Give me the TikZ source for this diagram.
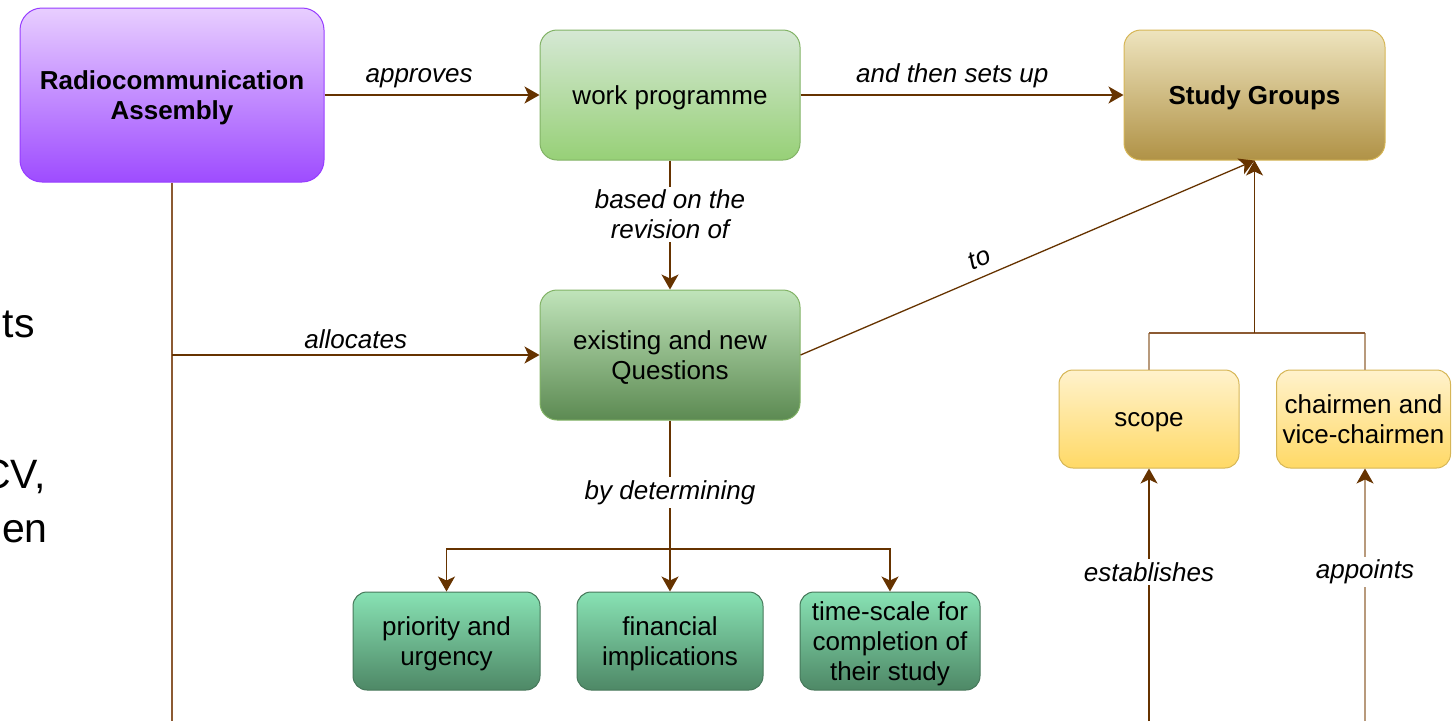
\documentclass[tikz,border=0pt]{standalone}
\usepackage{fontspec}
\setmainfont{Liberation Sans}
\usetikzlibrary{arrows.meta}
\definecolor{arrbrown}{RGB}{102,51,0}
\definecolor{midbrown}{RGB}{140,90,50}
\definecolor{lighttan}{RGB}{184,154,124}
\definecolor{raTop}{RGB}{232,206,255}
\definecolor{raBot}{RGB}{158,76,255}
\definecolor{raLine}{RGB}{150,60,255}
\definecolor{wpTop}{RGB}{213,232,212}
\definecolor{wpBot}{RGB}{151,208,119}
\definecolor{greenLine}{RGB}{130,179,102}
\definecolor{qTop}{RGB}{192,228,186}
\definecolor{qBot}{RGB}{92,138,82}
\definecolor{sgTop}{RGB}{238,228,190}
\definecolor{sgBot}{RGB}{176,146,70}
\definecolor{yLine}{RGB}{214,182,86}
\definecolor{yTop}{RGB}{255,242,204}
\definecolor{yBot}{RGB}{255,217,102}
\definecolor{mTop}{RGB}{136,226,180}
\definecolor{mBot}{RGB}{78,136,102}
\definecolor{mLine}{RGB}{70,120,90}
\begin{document}
\begin{tikzpicture}[x=1pt,y=-1pt,
  txt/.style={font=\fontsize{26}{30}\selectfont},
  itl/.style={font=\fontsize{26}{30}\selectfont\itshape},
  basebox/.style={draw, rounded corners=17pt, line width=1pt, align=center, inner sep=0pt, text depth=0pt, txt},
  rabox/.style={basebox, draw=raLine, top color=raTop, bottom color=raBot, minimum width=304pt, minimum height=174pt, rounded corners=22pt},
  wpbox/.style={basebox, draw=greenLine, top color=wpTop, bottom color=wpBot, minimum width=260pt, minimum height=130pt},
  qbox/.style={basebox, draw=greenLine, top color=qTop, bottom color=qBot, minimum width=260pt, minimum height=130pt},
  sgbox/.style={basebox, draw=yLine, top color=sgTop, bottom color=sgBot, minimum width=261pt, minimum height=130pt},
  ybox/.style={basebox, draw=yLine, top color=yTop, bottom color=yBot, minimum height=98pt, rounded corners=14pt},
  mbox/.style={basebox, draw=mLine, top color=mTop, bottom color=mBot, minimum height=98pt, rounded corners=14pt},
  conn/.style={draw=arrbrown, line width=1.3pt, -{Stealth[length=15pt,width=17pt,inset=4pt,color=arrbrown]}},
  plainconn/.style={draw=arrbrown, line width=1.3pt},
  gaplbl/.style={itl, fill=white, inner sep=3pt, align=center},
  frag/.style={font=\fontsize{41}{44}\selectfont, inner sep=0pt, anchor=base east}
]
\useasboundingbox (0,0) rectangle (1452,721);

% fragments of text cut at the left edge
\begin{scope}
  \clip (0,0) rectangle (1452,721);
  \node[frag] (f1) at (35,337) {ts};
  \node[frag] (f2) at (46,488) {CV,};
  \node[frag] (f3) at (48,542) {en};
\end{scope}

% boxes
\node[rabox] (ra) at (172,95) {\textbf{Radiocommunication}\\\textbf{Assembly}};
\node[wpbox] (wp) at (670,95) {work programme};
\node[sgbox] (sg) at (1254.5,95) {\textbf{Study Groups}};
\node[qbox] (q) at (670,355) {existing and new\\Questions};
\node[ybox, minimum width=180pt] (scope) at (1149,419) {scope};
\node[ybox, minimum width=174pt] (chair) at (1363.5,419) {chairmen and\\vice-chairmen};
\node[mbox, minimum width=187pt] (pri) at (446.5,641) {priority and\\urgency};
\node[mbox, minimum width=186pt] (fin) at (670,641) {financial\\implications};
\node[mbox, minimum width=180pt] (tsc) at (890,641) {time-scale for\\completion of\\their study};

% helper coordinates
\coordinate (rab) at (172,721);
\coordinate (raj) at (172,355);
\coordinate (bj) at (670,549);
\coordinate (jn) at (1254.5,333);
\coordinate (sb) at (1149,721);
\coordinate (cb) at (1365,721);

% connectors
\draw[conn] (ra.east) -- node[itl, above=6pt, pos=0.44, inner sep=0pt] {approves} (wp.west);
\draw[conn] (wp.east) -- node[itl, above=6pt, pos=0.47, inner sep=0pt] {and then sets up} (sg.west);
\draw[conn] (wp.south) -- node[gaplbl, pos=0.42] {based on the\\revision of} (q.north);
\draw[draw=midbrown, line width=1.3pt] (ra.south) -- (rab);
\draw[conn] (raj) -- node[itl, above=6pt, pos=0.5, inner sep=0pt] {allocates} (q.west);
\draw[conn] (q.east) -- node[itl, sloped, above=9pt, pos=0.41, inner sep=0pt] {to} (sg.south);
\draw[plainconn] (q.south) -- node[gaplbl, pos=0.56] {by determining} (bj);
\draw[conn] (bj) -| (pri.north);
\draw[conn] (bj) -| (tsc.north);
\draw[conn] (bj) -- (fin.north);
\draw[draw=lighttan, line width=1.3pt] (scope.north) -- (scope.north |- jn);
\draw[draw=lighttan, line width=1.3pt] (chair.north -| cb) -- (cb |- jn);
\draw[draw=midbrown, line width=1.3pt] (scope.north |- jn) -- (cb |- jn);
\draw[conn] (jn) -- (sg.south);
\draw[conn] (sb) -- node[gaplbl, pos=0.59] {establishes} (scope.south);
\draw[conn, draw=lighttan] (cb) -- node[gaplbl, pos=0.59] {appoints} (cb |- chair.south);
\end{tikzpicture}
\end{document}
